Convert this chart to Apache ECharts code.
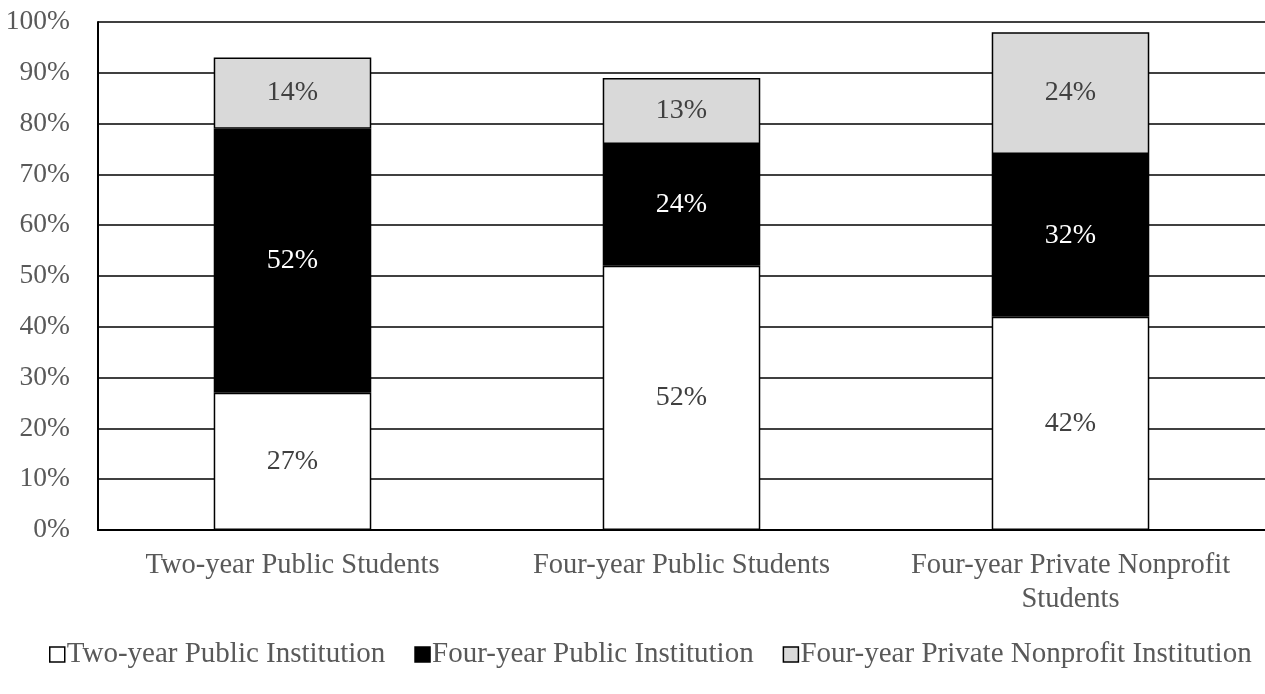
<!DOCTYPE html>
<html>
<head>
<meta charset="utf-8">
<script src="https://cdn.jsdelivr.net/npm/echarts@6/dist/echarts.min.js"></script>
<style>
  html, body { margin: 0; padding: 0; background: #fff; }
  #chart { width: 1265px; height: 694px; }
</style>
</head>
<body>
<div id="chart"></div>
<script>
// Where students transfer to, by type of starting institution (shares in %)
const categories = [
  'Two-year Public Students',
  'Four-year Public Students',
  'Four-year Private Nonprofit\nStudents'
];
const seriesNames = [
  'Two-year Public Institution',
  'Four-year Public Institution',
  'Four-year Private Nonprofit Institution'
];
const twoYearPublic = [27, 52, 42];
const fourYearPublic = [52, 24, 32];
const fourYearPrivate = [14, 13, 24];
const yTicks = [0, 10, 20, 30, 40, 50, 60, 70, 80, 90, 100];

const FONT = '"Liberation Serif", "Times New Roman", serif';
const GREY_TEXT = '#595959';

const fills = ['#ffffff', '#000000', '#d9d9d9'];
const labelColors = ['#404040', '#ffffff', '#404040'];
const values = [twoYearPublic, fourYearPublic, fourYearPrivate];

const chart = echarts.init(document.getElementById('chart'), null, { renderer: 'canvas' });

chart.setOption({
  animation: false,
  backgroundColor: '#ffffff',
  grid: { left: 98, right: 0, top: 22, bottom: 164, containLabel: false },
  legend: {
    bottom: 20,
    left: 44,
    itemWidth: 15,
    itemHeight: 15,
    itemGap: 29,
    icon: 'rect',
    textStyle: { fontFamily: FONT, fontSize: 29, color: GREY_TEXT, padding: [0, 0, 0, -3] },
    data: seriesNames.map((n, i) => ({
      name: n,
      itemStyle: { color: fills[i], borderColor: '#000', borderWidth: 1.5 }
    }))
  },
  xAxis: {
    type: 'category',
    data: categories,
    axisLine: { show: true, lineStyle: { color: '#000', width: 2 } },
    axisTick: { show: false },
    axisLabel: {
      fontFamily: FONT, fontSize: 28.5, color: GREY_TEXT, margin: 19,
      lineHeight: 34, interval: 0
    }
  },
  yAxis: {
    type: 'value',
    min: 0,
    max: 100,
    interval: 10,
    axisLine: { show: true, lineStyle: { color: '#000', width: 2 } },
    axisTick: { show: false },
    splitLine: { show: true, lineStyle: { color: '#000', width: 1.6 } },
    axisLabel: {
      fontFamily: FONT, fontSize: 27.5, color: GREY_TEXT, margin: 28,
      formatter: v => (yTicks.includes(v) ? v + '%' : '')
    }
  },
  series: seriesNames.map((name, i) => ({
    name,
    type: 'bar',
    stack: 'total',
    barWidth: '40.5%',
    data: values[i],
    itemStyle: { color: fills[i], borderColor: '#000', borderWidth: 1.5 },
    label: {
      show: true,
      position: 'inside',
      formatter: p => p.value + '%',
      fontFamily: FONT,
      fontSize: 28,
      color: labelColors[i]
    },
    emphasis: { disabled: true }
  }))
});
</script>
</body>
</html>
